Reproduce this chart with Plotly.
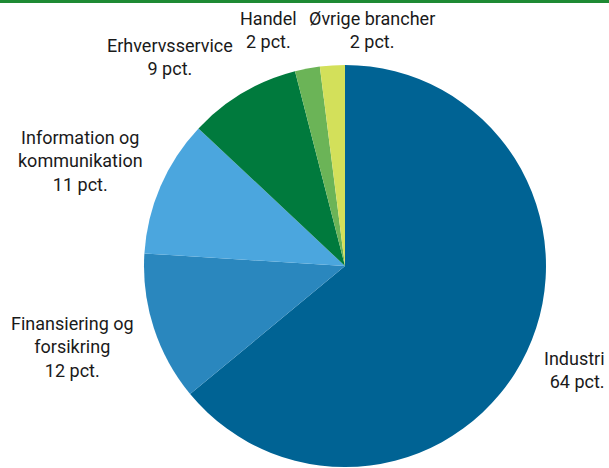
import plotly.graph_objects as go

# Branchefordeling i procent
brancher = ["Industri", "Finansiering og forsikring", "Information og kommunikation",
            "Erhvervsservice", "Handel", "Øvrige brancher"]
andele = [64, 12, 11, 9, 2, 2]
farver = ["#006394", "#2A87BE", "#4BA6DE", "#007A3D", "#6BB457", "#D3E05A"]

# Labeltekster (linjeskift) og placering i pixel
label_linjer = [
    ["Industri"],
    ["Finansiering og", "forsikring"],
    ["Information og", "kommunikation"],
    ["Erhvervsservice"],
    ["Handel"],
    ["Øvrige brancher"],
]
label_pos = [(607, 358, "right"), (72, 323, "center"), (80, 137, "center"),
             (170, 45, "center"), (268, 18, "center"), (372, 18, "center")]

W, H = 609, 468
cx, cy, r = 345, 266, 201

fig = go.Figure(go.Pie(
    labels=brancher,
    values=andele,
    sort=False,
    direction="clockwise",
    rotation=0,
    marker=dict(colors=farver, line=dict(color="white", width=0)),
    textinfo="none",
    hoverinfo="label+percent",
    showlegend=False,
    domain=dict(x=[(cx - r) / W, (cx + r) / W],
                y=[(H - cy - r) / H, (H - cy + r) / H]),
))

font = dict(family="Liberation Sans Narrow, Roboto, sans-serif", size=18, color="#1a1a1a")
annotations = []
for linjer, v, (x, y, align) in zip(label_linjer, andele, label_pos):
    tekst = "<br>".join(linjer + [f"{v} pct."])
    annotations.append(dict(
        text=tekst, x=x / W, y=1 - (y - 12) / H, xref="paper", yref="paper",
        xanchor="right" if align == "right" else "center", yanchor="top",
        align=align, showarrow=False, font=font,
    ))

fig.update_layout(
    width=W, height=H,
    margin=dict(l=0, r=0, t=0, b=0),
    paper_bgcolor="white",
    annotations=annotations,
    shapes=[dict(type="line", xref="paper", yref="paper", x0=0, x1=1,
                 y0=1 - 1.5 / H, y1=1 - 1.5 / H,
                 line=dict(color="#1E8A34", width=3))],
)

fig.write_html("out.html")
